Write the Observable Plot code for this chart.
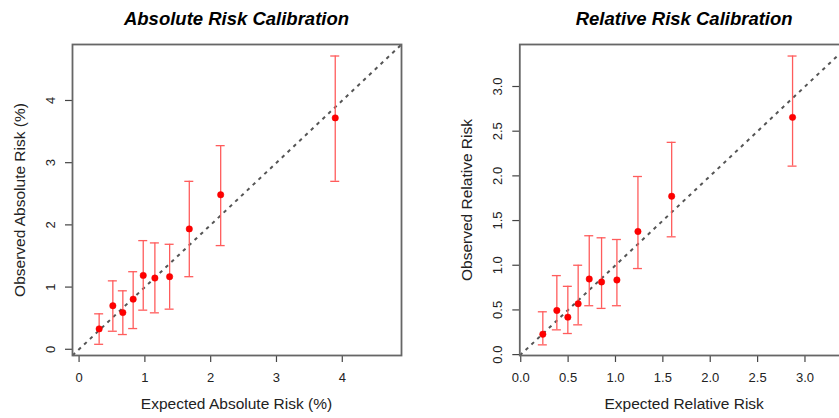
<!DOCTYPE html>
<html>
<head>
<meta charset="utf-8">
<script src="https://cdn.jsdelivr.net/npm/d3@7"></script>
<script src="https://cdn.jsdelivr.net/npm/@observablehq/plot@0.6"></script>
<style>
  html, body { margin: 0; padding: 0; background: #fff; overflow: hidden; }
  #wrap { position: relative; width: 839px; height: 418px; overflow: hidden; font-family: "Liberation Sans", Arial, sans-serif; }
  .panel { position: absolute; top: 0; }
  .title { position: absolute; top: 8px; font: italic bold 18.5px "Liberation Sans", Arial, sans-serif; color: #000; white-space: nowrap; transform: translateX(-50%); }
  .xlab { position: absolute; top: 395px; font: 15.5px "Liberation Sans", Arial, sans-serif; color: #222; white-space: nowrap; transform: translateX(-50%); }
  .ylab { position: absolute; font: 15.5px "Liberation Sans", Arial, sans-serif; color: #222; white-space: nowrap; transform: translate(-50%, -50%) rotate(-90deg); }
</style>
</head>
<body>
<div id="wrap"></div>
<script>
// Absolute risk calibration (%)
const absExpected = [0.305, 0.513, 0.665, 0.822, 0.975, 1.152, 1.376, 1.675, 2.152, 3.893];
const absObserved = [0.328, 0.700, 0.590, 0.806, 1.188, 1.145, 1.167, 1.935, 2.484, 3.720];
const absLower    = [0.080, 0.290, 0.237, 0.333, 0.629, 0.586, 0.645, 1.167, 1.667, 2.700];
const absUpper    = [0.570, 1.100, 0.940, 1.247, 1.747, 1.710, 1.688, 2.700, 3.274, 4.715];
const absTicks = [0, 1, 2, 3, 4];

// Relative risk calibration
const relExpected = [0.233, 0.381, 0.497, 0.606, 0.723, 0.853, 1.015, 1.237, 1.593, 2.869];
const relObserved = [0.228, 0.494, 0.419, 0.569, 0.846, 0.813, 0.835, 1.378, 1.772, 2.655];
const relLower    = [0.109, 0.277, 0.236, 0.333, 0.547, 0.517, 0.547, 0.963, 1.318, 2.109];
const relUpper    = [0.479, 0.884, 0.764, 1.000, 1.330, 1.307, 1.288, 1.993, 2.375, 3.341];
const relTicks = [0, 0.5, 1, 1.5, 2, 2.5, 3];

const wrap = document.getElementById("wrap");

function panel({left, width, marginLeft, marginRight, domain, ticks, fmt, expected, observed, lower, upper, title, xlab, ylab, ylabX}) {
  const data = expected.map((e, i) => ({e, o: observed[i], lo: lower[i], hi: upper[i]}));
  const diag = [{v: domain[0]}, {v: domain[1]}];
  const axisColor = "#444";
  const err = "#ff5c5c";
  const chart = Plot.plot({
    width, height: 418,
    marginLeft, marginRight, marginTop: 44, marginBottom: 63,
    style: {fontFamily: "'Liberation Sans', Arial, sans-serif", background: "transparent", overflow: "visible"},
    x: {domain, ticks, tickFormat: fmt, label: null},
    y: {domain, ticks, label: null},
    marks: [
      Plot.line(diag, {x: "v", y: "v", stroke: "#555", strokeWidth: 2, strokeDasharray: "3.5,4.5", strokeLinecap: "butt"}),
      Plot.ruleX(data, {x: "e", y1: "lo", y2: "hi", stroke: err, strokeWidth: 1.3}),
      Plot.ruleY(data, {y: "hi", x1: "e", x2: "e", insetLeft: -4.5, insetRight: -4.5, stroke: err, strokeWidth: 1.3}),
      Plot.ruleY(data, {y: "lo", x1: "e", x2: "e", insetLeft: -4.5, insetRight: -4.5, stroke: err, strokeWidth: 1.3}),
      Plot.dot(data, {x: "e", y: "o", r: 3.2, fill: "#ff0000", stroke: "#ee0000", strokeWidth: 0.5}),
      Plot.axisX({ticks, tickFormat: fmt, tickSize: 7, tickPadding: 10, fontSize: 13, color: "#222", stroke: axisColor, strokeWidth: 1.2, label: null}),
      Plot.axisY({ticks, tickFormat: () => "", tickSize: 7, stroke: axisColor, strokeWidth: 1.2, label: null}),
      Plot.text(ticks, {y: d => d, frameAnchor: "left", dx: -22, rotate: -90, text: d => fmt(d), fontSize: 13, fill: "#222", textAnchor: "middle"}),
      Plot.frame({stroke: "#666", strokeWidth: 1.8})
    ]
  });
  chart.classList.add("panel");
  chart.style.left = left + "px";
  wrap.appendChild(chart);

  const boxCenter = left + marginLeft + (width - marginLeft - marginRight) / 2;
  const t = document.createElement("div");
  t.className = "title"; t.textContent = title; t.style.left = boxCenter + "px";
  wrap.appendChild(t);
  const xl = document.createElement("div");
  xl.className = "xlab"; xl.textContent = xlab; xl.style.left = boxCenter + "px";
  wrap.appendChild(xl);
  const yl = document.createElement("div");
  yl.className = "ylab"; yl.textContent = ylab; yl.style.left = ylabX + "px"; yl.style.top = "200px";
  wrap.appendChild(yl);
}

panel({
  left: 0, width: 420, marginLeft: 72, marginRight: 19,
  domain: [-0.1, 4.9], ticks: absTicks, fmt: d3.format("d"),
  expected: absExpected, observed: absObserved, lower: absLower, upper: absUpper,
  title: "Absolute Risk Calibration", xlab: "Expected Absolute Risk (%)", ylab: "Observed Absolute Risk (%)", ylabX: 20
});

panel({
  left: 420, width: 429, marginLeft: 99.3, marginRight: 0,
  domain: [-0.01, 3.47], ticks: relTicks, fmt: d3.format(".1f"),
  expected: relExpected, observed: relObserved, lower: relLower, upper: relUpper,
  title: "Relative Risk Calibration", xlab: "Expected Relative Risk", ylab: "Observed Relative Risk", ylabX: 467
});
</script>
</body>
</html>
